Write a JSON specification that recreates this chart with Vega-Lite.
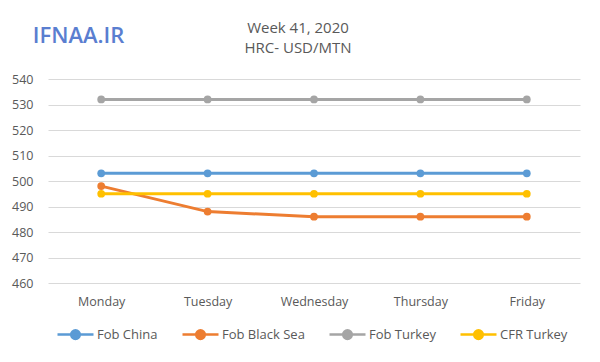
{
  "$schema": "https://vega.github.io/schema/vega-lite/v6.json",
  "width": 532,
  "height": 204,
  "autosize": {"type": "none"},
  "padding": {"left": 48, "top": 79, "right": 20, "bottom": 79},
  "background": "white",
  "config": {
    "view": {"stroke": null},
    "font": "Open Sans"
  },
  "title": {
    "text": "Week 41, 2020",
    "subtitle": "HRC- USD/MTN",
    "anchor": "middle",
    "dx": -16,
    "offset": -32,
    "fontSize": 15,
    "fontWeight": "normal",
    "color": "#595959",
    "subtitleFontSize": 15,
    "subtitleColor": "#595959",
    "subtitlePadding": 5,
    "font": "Open Sans",
    "subtitleFont": "Open Sans"
  },
  "data": {
    "values": [
      {"day": "Monday", "series": "Fob China", "value": 503},
      {"day": "Tuesday", "series": "Fob China", "value": 503},
      {"day": "Wednesday", "series": "Fob China", "value": 503},
      {"day": "Thursday", "series": "Fob China", "value": 503},
      {"day": "Friday", "series": "Fob China", "value": 503},
      {"day": "Monday", "series": "Fob Black Sea", "value": 498},
      {"day": "Tuesday", "series": "Fob Black Sea", "value": 488},
      {"day": "Wednesday", "series": "Fob Black Sea", "value": 486},
      {"day": "Thursday", "series": "Fob Black Sea", "value": 486},
      {"day": "Friday", "series": "Fob Black Sea", "value": 486},
      {"day": "Monday", "series": "Fob Turkey", "value": 532},
      {"day": "Tuesday", "series": "Fob Turkey", "value": 532},
      {"day": "Wednesday", "series": "Fob Turkey", "value": 532},
      {"day": "Thursday", "series": "Fob Turkey", "value": 532},
      {"day": "Friday", "series": "Fob Turkey", "value": 532},
      {"day": "Monday", "series": "CFR Turkey", "value": 495},
      {"day": "Tuesday", "series": "CFR Turkey", "value": 495},
      {"day": "Wednesday", "series": "CFR Turkey", "value": 495},
      {"day": "Thursday", "series": "CFR Turkey", "value": 495},
      {"day": "Friday", "series": "CFR Turkey", "value": 495}
    ]
  },
  "encoding": {
    "x": {
      "field": "day",
      "type": "nominal",
      "sort": ["Monday", "Tuesday", "Wednesday", "Thursday", "Friday"],
      "scale": {"type": "point", "padding": 0.5},
      "axis": {
        "title": null,
        "labelAngle": 0,
        "ticks": false,
        "domain": false,
        "grid": false,
        "labelPadding": 12,
        "labelFontSize": 12.5,
        "labelColor": "#595959",
        "labelFont": "Open Sans"
      }
    },
    "y": {
      "field": "value",
      "type": "quantitative",
      "scale": {"domain": [460, 540], "nice": false, "zero": false},
      "axis": {
        "values": [460, 470, 480, 490, 500, 510, 520, 530, 540],
        "title": "IFNAA.IR",
        "titleAngle": 0,
        "titleX": 30,
        "titleY": -44,
        "titleAlign": "center",
        "titleBaseline": "middle",
        "titleFont": "Open Sans",
        "titleFontSize": 22,
        "titleFontWeight": 600,
        "titleColor": "#5A7ED0",
        "ticks": false,
        "domain": false,
        "labelPadding": 15,
        "labelFontSize": 12.5,
        "labelColor": "#595959",
        "labelFont": "Open Sans",
        "gridColor": "#D9D9D9",
        "gridWidth": 1
      }
    },
    "color": {
      "field": "series",
      "type": "nominal",
      "scale": {
        "domain": ["Fob China", "Fob Black Sea", "Fob Turkey", "CFR Turkey"],
        "range": ["#5B9BD5", "#ED7D31", "#A5A5A5", "#FFC000"]
      },
      "legend": {
        "title": null,
        "orient": "none",
        "direction": "horizontal",
        "legendX": 8,
        "legendY": 236,
        "symbolType": "M-1,0H1M-0.24,0A0.24,0.24 0 1,0 0.24,0A0.24,0.24 0 1,0 -0.24,0Z",
        "symbolSize": 1296,
        "symbolStrokeWidth": 2.5,
        "labelOffset": 2,
        "columnPadding": 19,
        "labelFontSize": 13,
        "labelColor": "#595959",
        "labelFont": "Open Sans"
      }
    }
  },
  "layer": [
    {"mark": {"type": "line", "strokeWidth": 3}},
    {"mark": {"type": "point", "filled": true, "size": 60, "opacity": 1}}
  ]
}
